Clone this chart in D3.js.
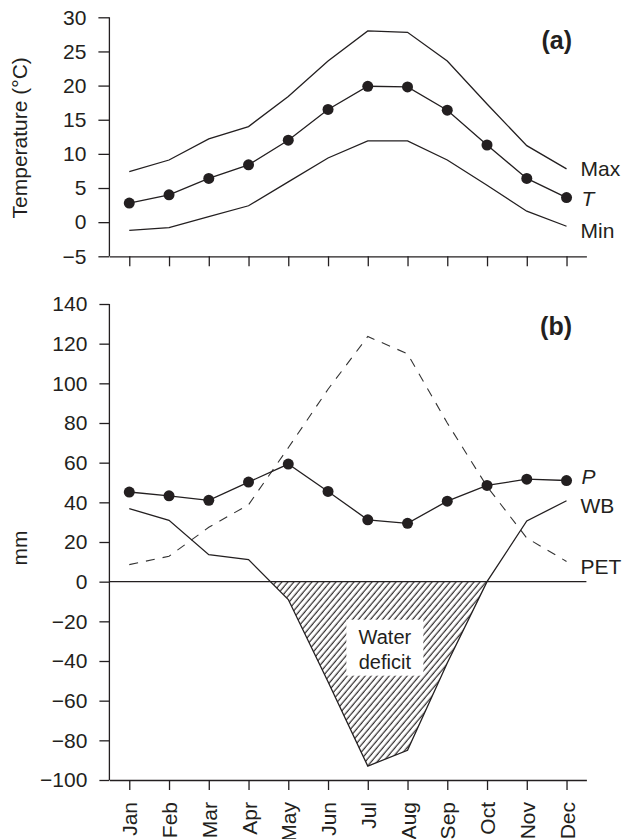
<!DOCTYPE html>
<html>
<head>
<meta charset="utf-8">
<script src="https://cdn.jsdelivr.net/npm/d3@7"></script>
<style>
  body { margin: 0; background: #fff; }
  svg { display: block; font-family: "Liberation Sans", Arial, Helvetica, sans-serif; }
  text { fill: #231f20; }
</style>
</head>
<body>
<svg id="chart" width="622" height="839"></svg>
<script>
// ---- data ----
const months = ["Jan","Feb","Mar","Apr","May","Jun","Jul","Aug","Sep","Oct","Nov","Dec"];
const tMax  = [7.4, 9.1, 12.2, 14.0, 18.4, 23.6, 28.0, 27.8, 23.6, 17.3, 11.2, 7.8];
const tMean = [2.8, 4.0, 6.4, 8.4, 12.0, 16.5, 19.9, 19.8, 16.4, 11.3, 6.4, 3.6];
const tMin  = [-1.2, -0.8, 0.8, 2.4, 5.9, 9.4, 11.9, 11.9, 9.1, 5.4, 1.6, -0.6];
const precip = [45.2, 43.3, 41.0, 50.2, 59.3, 45.5, 31.2, 29.4, 40.6, 48.5, 51.7, 51.0];
const waterBalance = [36.8, 30.9, 13.6, 11.1, -9.0, -50.5, -93.0, -85.0, -41.0, 0, 30.6, 40.8];
const pet = [8.6, 12.8, 27.4, 38.8, 67.5, 97.0, 123.6, 114.9, 80.0, 48.0, 22.0, 10.2];
const tempTicks = [-5, 0, 5, 10, 15, 20, 25, 30];
const mmTicks = [-100, -80, -60, -40, -20, 0, 20, 40, 60, 80, 100, 120, 140];

// ---- setup ----
const ink = "#231f20";
const FS = 21;
const svg = d3.select("#chart");
const x = d3.scaleLinear().domain([-0.5, 11.5]).range([109.4, 586.4]);
const yT = d3.scaleLinear().domain([-5, 30]).range([256.3, 17.3]);
const yB = d3.scaleLinear().domain([-100, 140]).range([780, 304]);
const fmt = d => d < 0 ? "\u2212" + Math.abs(d) : String(d);

function styleAxis(g) {
  g.selectAll("path, line").attr("stroke", ink).attr("stroke-width", 1.3);
  g.selectAll("text").attr("font-size", FS).attr("fill", ink)
    .attr("font-family", "'Liberation Sans', Arial, sans-serif");
}

// ---- defs: hatch ----
const defs = svg.append("defs");
const pat = defs.append("pattern").attr("id", "hatch")
  .attr("patternUnits", "userSpaceOnUse").attr("width", 4.6).attr("height", 10)
  .attr("patternTransform", "rotate(40)");
pat.append("path").attr("d", "M1.2,-1V11").attr("stroke", ink).attr("stroke-width", 1.15);
defs.append("clipPath").attr("id", "below0").append("rect")
  .attr("x", x.range()[0]).attr("width", x.range()[1] - x.range()[0])
  .attr("y", yB(0)).attr("height", yB(-100) - yB(0));

// ================= Panel (a) =================
const lineT = d3.line().x((d, i) => x(i)).y(d => yT(d));
const gA = svg.append("g");
[tMax, tMin, tMean].forEach(arr => {
  gA.append("path").attr("d", lineT(arr)).attr("fill", "none")
    .attr("stroke", ink).attr("stroke-width", 1.3);
});
gA.selectAll("circle").data(tMean).join("circle")
  .attr("cx", (d, i) => x(i)).attr("cy", d => yT(d)).attr("r", 5.5).attr("fill", ink);

gA.append("g").attr("transform", `translate(${x.range()[0]},0)`)
  .call(d3.axisLeft(yT).tickValues(tempTicks).tickFormat(fmt).tickSize(11).tickPadding(12).tickSizeOuter(0))
  .call(styleAxis).call(g => g.select(".domain").attr("d", `M0,${yT(-5)}V${yT(30)}`));
gA.append("g").attr("transform", `translate(0,${yT(-5)})`)
  .call(d3.axisBottom(x).tickValues(d3.range(12)).tickFormat("").tickSize(10).tickSizeOuter(0))
  .call(styleAxis);

gA.append("text").attr("transform", `translate(27,${(yT(-5) + yT(30)) / 2 + 1}) rotate(-90)`)
  .attr("text-anchor", "middle").attr("font-size", FS).text("Temperature (°C)");
gA.append("text").attr("x", 572).attr("y", 49).attr("text-anchor", "end")
  .attr("font-size", 25).attr("font-weight", "bold").text("(a)");
gA.append("text").attr("x", x(11) + 14).attr("y", yT(tMax[11])).attr("dy", "0.36em")
  .attr("font-size", FS).text("Max");
gA.append("text").attr("x", x(11) + 15).attr("y", yT(tMean[11]) + 1).attr("dy", "0.36em")
  .attr("font-size", FS).attr("font-style", "italic").text("T");
gA.append("text").attr("x", x(11) + 14).attr("y", yT(tMin[11]) + 4).attr("dy", "0.36em")
  .attr("font-size", FS).text("Min");

// ================= Panel (b) =================
const gB = svg.append("g");
const lineB = d3.line().x((d, i) => x(i)).y(d => yB(d));
const areaB = d3.area().x((d, i) => x(i)).y0(yB(0)).y1(d => yB(d));

gB.append("path").attr("d", areaB(waterBalance)).attr("fill", "url(#hatch)")
  .attr("clip-path", "url(#below0)");

// label box
const lx = x(6.43), ly = yB(-28);
gB.append("rect").attr("x", lx - 38.5).attr("y", ly - 17.5).attr("width", 77).attr("height", 56)
  .attr("fill", "#fff");
gB.append("text").attr("x", lx).attr("y", ly).attr("dy", "0.36em").attr("text-anchor", "middle")
  .attr("font-size", 20).text("Water");
gB.append("text").attr("x", lx).attr("y", ly + 25).attr("dy", "0.36em").attr("text-anchor", "middle")
  .attr("font-size", 20).text("deficit");

// zero line
gB.append("line").attr("x1", x.range()[0]).attr("x2", x.range()[1])
  .attr("y1", yB(0)).attr("y2", yB(0)).attr("stroke", ink).attr("stroke-width", 1.3);

gB.append("path").attr("d", lineB(pet)).attr("fill", "none").attr("stroke", "#333")
  .attr("stroke-width", 1.1).attr("stroke-dasharray", "9,8");
gB.append("path").attr("d", lineB(waterBalance)).attr("fill", "none").attr("stroke", ink)
  .attr("stroke-width", 1.3);
gB.append("path").attr("d", lineB(precip)).attr("fill", "none").attr("stroke", ink)
  .attr("stroke-width", 1.3);
gB.selectAll("circle").data(precip).join("circle")
  .attr("cx", (d, i) => x(i)).attr("cy", d => yB(d)).attr("r", 5.5).attr("fill", ink);

gB.append("g").attr("transform", `translate(${x.range()[0]},0)`)
  .call(d3.axisLeft(yB).tickValues(mmTicks).tickFormat(fmt).tickSize(10).tickPadding(12).tickSizeOuter(0))
  .call(styleAxis).call(g => g.select(".domain").attr("d", `M0,${yB(-100)}V${yB(140)}`));
const xAxB = gB.append("g").attr("transform", `translate(0,${yB(-100)})`)
  .call(d3.axisBottom(x).tickValues(d3.range(12)).tickFormat(i => months[i]).tickSize(10).tickSizeOuter(0))
  .call(styleAxis);
xAxB.selectAll(".tick text").attr("transform", "rotate(-90)")
  .attr("x", -22).attr("y", 0).attr("dy", "0.36em").attr("text-anchor", "end");

gB.append("text").attr("transform", `translate(27,548) rotate(-90)`)
  .attr("text-anchor", "middle").attr("font-size", FS).text("mm");
gB.append("text").attr("x", 572).attr("y", 335).attr("text-anchor", "end")
  .attr("font-size", 25).attr("font-weight", "bold").text("(b)");
gB.append("text").attr("x", x(11) + 15).attr("y", yB(precip[11]) - 4).attr("dy", "0.36em")
  .attr("font-size", FS).attr("font-style", "italic").text("P");
gB.append("text").attr("x", x(11) + 14).attr("y", yB(waterBalance[11]) + 5).attr("dy", "0.36em")
  .attr("font-size", FS).text("WB");
gB.append("text").attr("x", x(11) + 14).attr("y", yB(pet[11]) + 5.5).attr("dy", "0.36em")
  .attr("font-size", FS).text("PET");
</script>
</body>
</html>
